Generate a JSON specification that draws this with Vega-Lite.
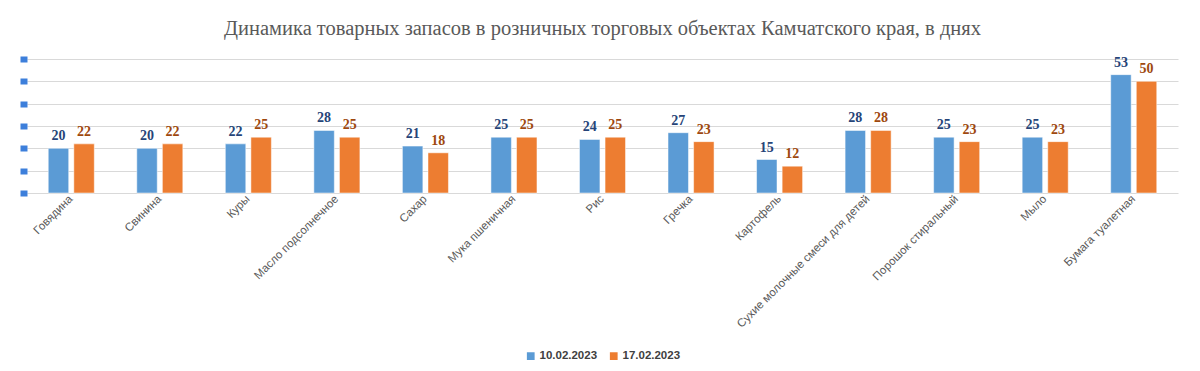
{
  "$schema": "https://vega.github.io/schema/vega-lite/v6.json",
  "width": 1151,
  "height": 134,
  "autosize": {"type": "none"},
  "padding": {"left": 27, "top": 59, "right": 22, "bottom": 178},
  "background": "white",
  "title": {
    "text": "Динамика товарных запасов в розничных торговых объектах Камчатского края, в днях",
    "font": "Liberation Serif",
    "fontSize": 20.5,
    "fontWeight": "normal",
    "color": "#595959",
    "anchor": "middle",
    "frame": "group",
    "offset": 16
  },
  "data": {
    "values": [
      {"cat": "Говядина", "date": "10.02.2023", "v": 20},
      {"cat": "Говядина", "date": "17.02.2023", "v": 22},
      {"cat": "Свинина", "date": "10.02.2023", "v": 20},
      {"cat": "Свинина", "date": "17.02.2023", "v": 22},
      {"cat": "Куры", "date": "10.02.2023", "v": 22},
      {"cat": "Куры", "date": "17.02.2023", "v": 25},
      {"cat": "Масло подсолнечное", "date": "10.02.2023", "v": 28},
      {"cat": "Масло подсолнечное", "date": "17.02.2023", "v": 25},
      {"cat": "Сахар", "date": "10.02.2023", "v": 21},
      {"cat": "Сахар", "date": "17.02.2023", "v": 18},
      {"cat": "Мука пшеничная", "date": "10.02.2023", "v": 25},
      {"cat": "Мука пшеничная", "date": "17.02.2023", "v": 25},
      {"cat": "Рис", "date": "10.02.2023", "v": 24},
      {"cat": "Рис", "date": "17.02.2023", "v": 25},
      {"cat": "Гречка", "date": "10.02.2023", "v": 27},
      {"cat": "Гречка", "date": "17.02.2023", "v": 23},
      {"cat": "Картофель", "date": "10.02.2023", "v": 15},
      {"cat": "Картофель", "date": "17.02.2023", "v": 12},
      {"cat": "Сухие молочные смеси для детей", "date": "10.02.2023", "v": 28},
      {"cat": "Сухие молочные смеси для детей", "date": "17.02.2023", "v": 28},
      {"cat": "Порошок стиральный", "date": "10.02.2023", "v": 25},
      {"cat": "Порошок стиральный", "date": "17.02.2023", "v": 23},
      {"cat": "Мыло", "date": "10.02.2023", "v": 25},
      {"cat": "Мыло", "date": "17.02.2023", "v": 23},
      {"cat": "Бумага туалетная", "date": "10.02.2023", "v": 53},
      {"cat": "Бумага туалетная", "date": "17.02.2023", "v": 50}
    ]
  },
  "encoding": {
    "x": {
      "field": "cat",
      "type": "nominal",
      "sort": null,
      "title": null,
      "scale": {"paddingInner": 0.48, "paddingOuter": 0.24},
      "axis": {
        "labelAngle": -45,
        "labelAlign": "right",
        "labelBaseline": "middle",
        "labelFont": "Liberation Sans",
        "labelFontSize": 11.5,
        "labelColor": "#595959",
        "labelPadding": 4,
        "ticks": false,
        "domain": false,
        "labelLimit": 300
      }
    },
    "xOffset": {
      "field": "date",
      "type": "nominal",
      "scale": {"paddingInner": 0.2, "paddingOuter": 0}
    },
    "y": {
      "field": "v",
      "type": "quantitative",
      "title": null,
      "scale": {"domain": [0, 60], "nice": false},
      "axis": {
        "values": [0, 10, 20, 30, 40, 50, 60],
        "labels": false,
        "domain": false,
        "ticks": true,
        "tickSize": 7,
        "tickWidth": 6,
        "tickColor": "#3D7FDB",
        "grid": true,
        "gridColor": "#D9D9D9",
        "gridWidth": 1
      }
    }
  },
  "layer": [
    {
      "mark": {"type": "bar", "stroke": "white", "strokeWidth": 0.5},
      "encoding": {
        "color": {
          "field": "date",
          "type": "nominal",
          "title": null,
          "scale": {"domain": ["10.02.2023", "17.02.2023"], "range": ["#5B9BD5", "#ED7D31"]},
          "legend": {
            "orient": "none",
            "legendX": 498,
            "legendY": 291,
            "direction": "horizontal",
            "symbolType": "square",
            "symbolSize": 60,
            "symbolStrokeWidth": 0,
            "labelFont": "Liberation Sans",
            "labelFontSize": 11.5,
            "labelFontWeight": "bold",
            "labelColor": "#404040",
            "columnPadding": 10,
            "labelOffset": 3
          }
        }
      }
    },
    {
      "mark": {
        "type": "text",
        "baseline": "bottom",
        "dy": -5,
        "font": "Liberation Serif",
        "fontSize": 14,
        "fontWeight": "bold"
      },
      "encoding": {
        "text": {"field": "v", "type": "quantitative"},
        "fill": {
          "field": "date",
          "type": "nominal",
          "scale": {"domain": ["10.02.2023", "17.02.2023"], "range": ["#264478", "#9E480E"]},
          "legend": null
        }
      }
    }
  ],
  "config": {"view": {"stroke": null}}
}
